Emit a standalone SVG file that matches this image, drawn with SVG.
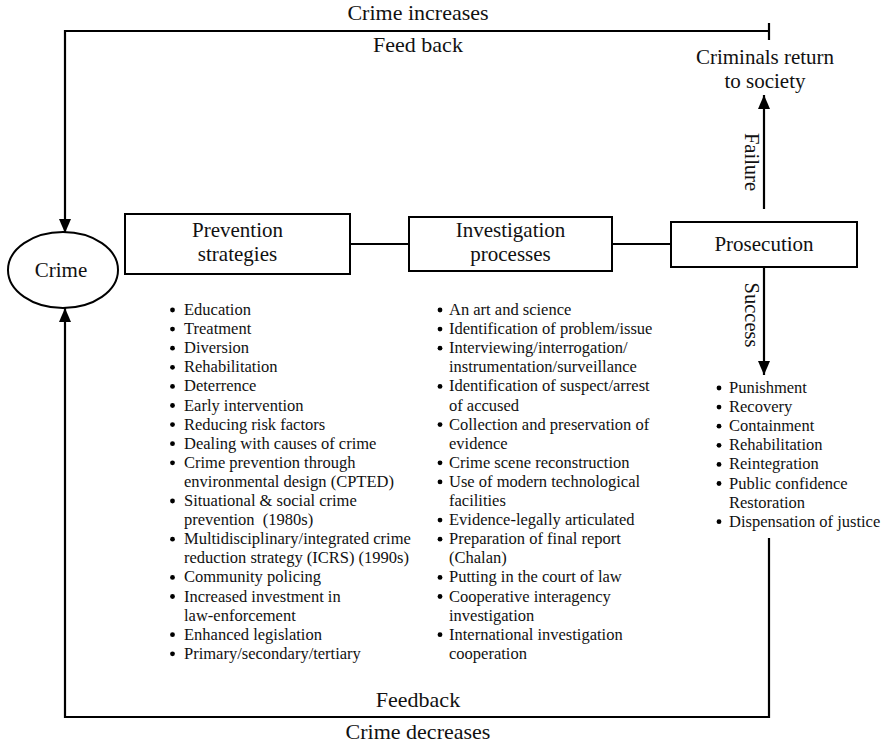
<svg xmlns="http://www.w3.org/2000/svg" width="884" height="744" viewBox="0 0 884 744">
  <defs>
    <marker id="arrow" viewBox="0 0 14 12" refX="14" refY="6" markerWidth="14" markerHeight="12" markerUnits="userSpaceOnUse" orient="auto">
      <path d="M0,0 L14,6 L0,12 Z" fill="#000"/>
    </marker>
    <style>
      text { font-family: "Liberation Serif", "Times New Roman", serif; fill: #111; }
      .box { fill: #fff; stroke: #000; stroke-width: 2; }
      .line { fill: none; stroke: #000; stroke-width: 2.2; }
      .title { font-size: 21px; text-anchor: middle; }
      .label { font-size: 22px; text-anchor: middle; }
      .side { font-size: 20.5px; text-anchor: middle; }
      .list { font-size: 16.5px; }
      .dot { fill: #000; }
    </style>
  </defs>

  <!-- connectors -->
  <g id="connectors">
    <!-- upper feedback loop: crime increases -->
    <path class="line" d="M769,31 H65 V233" marker-end="url(#arrow)"/>
    <path class="line" d="M769,23 V40"/>
    <!-- lower feedback loop: crime decreases -->
    <path class="line" d="M769,538 V717 H65 V308" marker-end="url(#arrow)"/>
    <!-- chain of boxes -->
    <path class="line" d="M350,244 H409"/>
    <path class="line" d="M612,244 H671"/>
    <!-- prosecution outcomes -->
    <path class="line" d="M764,209 V95" marker-end="url(#arrow)"/>
    <path class="line" d="M764,267 V375" marker-end="url(#arrow)"/>
  </g>

  <!-- loop labels -->
  <g id="loop-labels">
    <text class="label" x="418" y="20">Crime increases</text>
    <text class="label" x="418" y="52">Feed back</text>
    <text class="label" x="418" y="707">Feedback</text>
    <text class="label" x="418" y="739">Crime decreases</text>
    <text class="side" transform="translate(745,162) rotate(90)">Failure</text>
    <text class="side" transform="translate(745,315) rotate(90)">Success</text>
  </g>

  <g id="crime">
    <ellipse cx="63" cy="270" rx="55" ry="38" fill="#fff" stroke="#000" stroke-width="2"/>
    <text class="title" x="61" y="277">Crime</text>
  </g>

  <g id="criminals-return">
    <text class="title" x="765" y="64">Criminals return</text>
    <text class="title" x="765" y="88">to society</text>
  </g>

  <g id="prevention">
    <rect class="box" x="125" y="214" width="225" height="60"/>
    <text class="title" x="237.5" y="237">Prevention</text>
    <text class="title" x="237.5" y="261">strategies</text>
  </g>

  <g id="investigation">
    <rect class="box" x="409" y="217" width="203" height="54"/>
    <text class="title" x="510.5" y="237">Investigation</text>
    <text class="title" x="510.5" y="261">processes</text>
  </g>

  <g id="prosecution">
    <rect class="box" x="671" y="222" width="186" height="45"/>
    <text class="title" x="764" y="251">Prosecution</text>
  </g>

  <!-- prevention strategies list -->
  <g id="prevention-list">
    <g class="dot">
      <circle cx="172.5" cy="310" r="2.4"/>
      <circle cx="172.5" cy="329.1" r="2.4"/>
      <circle cx="172.5" cy="348.2" r="2.4"/>
      <circle cx="172.5" cy="367.3" r="2.4"/>
      <circle cx="172.5" cy="386.4" r="2.4"/>
      <circle cx="172.5" cy="405.5" r="2.4"/>
      <circle cx="172.5" cy="424.6" r="2.4"/>
      <circle cx="172.5" cy="443.7" r="2.4"/>
      <circle cx="172.5" cy="462.8" r="2.4"/>
      <circle cx="172.5" cy="501" r="2.4"/>
      <circle cx="172.5" cy="539.2" r="2.4"/>
      <circle cx="172.5" cy="577.4" r="2.4"/>
      <circle cx="172.5" cy="596.5" r="2.4"/>
      <circle cx="172.5" cy="634.7" r="2.4"/>
      <circle cx="172.5" cy="653.8" r="2.4"/>
    </g>
    <text class="list">
      <tspan x="184" y="315">Education</tspan>
      <tspan x="184" y="334.1">Treatment</tspan>
      <tspan x="184" y="353.2">Diversion</tspan>
      <tspan x="184" y="372.3">Rehabilitation</tspan>
      <tspan x="184" y="391.4">Deterrence</tspan>
      <tspan x="184" y="410.5">Early intervention</tspan>
      <tspan x="184" y="429.6">Reducing risk factors</tspan>
      <tspan x="184" y="448.7">Dealing with causes of crime</tspan>
      <tspan x="184" y="467.8">Crime prevention through</tspan>
      <tspan x="184" y="486.9">environmental design (CPTED)</tspan>
      <tspan x="184" y="506">Situational &amp; social crime</tspan>
      <tspan x="184" y="525.1" xml:space="preserve">prevention  (1980s)</tspan>
      <tspan x="184" y="544.2">Multidisciplinary/integrated crime</tspan>
      <tspan x="184" y="563.3">reduction strategy (ICRS) (1990s)</tspan>
      <tspan x="184" y="582.4">Community policing</tspan>
      <tspan x="184" y="601.5">Increased investment in</tspan>
      <tspan x="184" y="620.6">law-enforcement</tspan>
      <tspan x="184" y="639.7">Enhanced legislation</tspan>
      <tspan x="184" y="658.8">Primary/secondary/tertiary</tspan>
    </text>
  </g>

  <!-- investigation processes list -->
  <g id="investigation-list">
    <g class="dot">
      <circle cx="440" cy="310" r="2.4"/>
      <circle cx="440" cy="329.1" r="2.4"/>
      <circle cx="440" cy="348.2" r="2.4"/>
      <circle cx="440" cy="386.4" r="2.4"/>
      <circle cx="440" cy="424.6" r="2.4"/>
      <circle cx="440" cy="462.8" r="2.4"/>
      <circle cx="440" cy="481.9" r="2.4"/>
      <circle cx="440" cy="520.1" r="2.4"/>
      <circle cx="440" cy="539.2" r="2.4"/>
      <circle cx="440" cy="577.4" r="2.4"/>
      <circle cx="440" cy="596.5" r="2.4"/>
      <circle cx="440" cy="634.7" r="2.4"/>
    </g>
    <text class="list">
      <tspan x="449" y="315">An art and science</tspan>
      <tspan x="449" y="334.1">Identification of problem/issue</tspan>
      <tspan x="449" y="353.2">Interviewing/interrogation/</tspan>
      <tspan x="449" y="372.3">instrumentation/surveillance</tspan>
      <tspan x="449" y="391.4">Identification of suspect/arrest</tspan>
      <tspan x="449" y="410.5">of accused</tspan>
      <tspan x="449" y="429.6">Collection and preservation of</tspan>
      <tspan x="449" y="448.7">evidence</tspan>
      <tspan x="449" y="467.8">Crime scene reconstruction</tspan>
      <tspan x="449" y="486.9">Use of modern technological</tspan>
      <tspan x="449" y="506">facilities</tspan>
      <tspan x="449" y="525.1">Evidence-legally articulated</tspan>
      <tspan x="449" y="544.2">Preparation of final report</tspan>
      <tspan x="449" y="563.3">(Chalan)</tspan>
      <tspan x="449" y="582.4">Putting in the court of law</tspan>
      <tspan x="449" y="601.5">Cooperative interagency</tspan>
      <tspan x="449" y="620.6">investigation</tspan>
      <tspan x="449" y="639.7">International investigation</tspan>
      <tspan x="449" y="658.8">cooperation</tspan>
    </text>
  </g>

  <!-- prosecution outcomes list -->
  <g id="outcome-list">
    <g class="dot">
      <circle cx="719" cy="388" r="2.4"/>
      <circle cx="719" cy="407.1" r="2.4"/>
      <circle cx="719" cy="426.2" r="2.4"/>
      <circle cx="719" cy="445.3" r="2.4"/>
      <circle cx="719" cy="464.4" r="2.4"/>
      <circle cx="719" cy="483.5" r="2.4"/>
      <circle cx="719" cy="521.7" r="2.4"/>
    </g>
    <text class="list">
      <tspan x="729" y="393">Punishment</tspan>
      <tspan x="729" y="412.1">Recovery</tspan>
      <tspan x="729" y="431.2">Containment</tspan>
      <tspan x="729" y="450.3">Rehabilitation</tspan>
      <tspan x="729" y="469.4">Reintegration</tspan>
      <tspan x="729" y="488.5">Public confidence</tspan>
      <tspan x="729" y="507.6">Restoration</tspan>
      <tspan x="729" y="526.7">Dispensation of justice</tspan>
    </text>
  </g>
</svg>
